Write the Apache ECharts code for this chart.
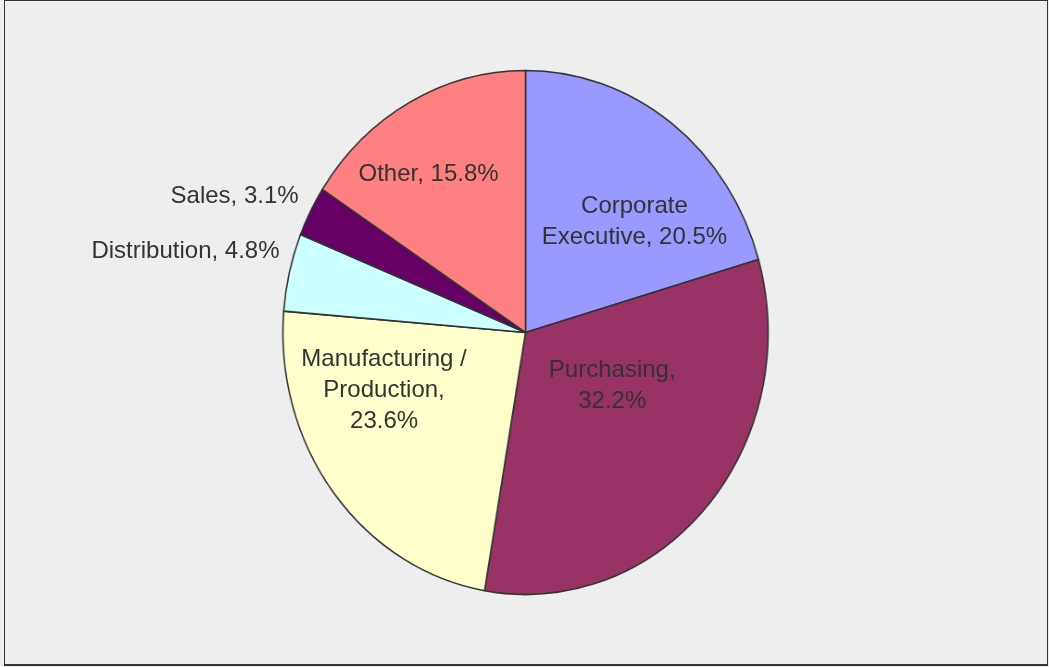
<!DOCTYPE html>
<html>
<head>
<meta charset="utf-8">
<script src="https://cdn.jsdelivr.net/npm/echarts@6/dist/echarts.min.js"></script>
<style>
  html, body { margin: 0; padding: 0; background: #eeeeee; }
  #frame { position: absolute; left: 4px; top: 0; width: 1042px; height: 663px; border: 1px solid #333; border-bottom: 2px solid #333; box-sizing: content-box; }
  .layer { position: absolute; left: 0; top: 0; width: 1049px; height: 667px; }
  /* the original pie is a slightly squeezed ellipse */
  #pie { transform: scaleX(0.926); transform-origin: 525.5px 0; }
</style>
</head>
<body>
<div id="frame"></div>
<div id="pie" class="layer"></div>
<div id="labels" class="layer"></div>
<script>
// slices, clockwise from 12 o'clock
var categories = ['Corporate\nExecutive', 'Purchasing', 'Manufacturing /\nProduction', 'Distribution', 'Sales', 'Other']
var separators = [', ', ',\n', ',\n', ', ', ', ', ', ']
var shares = [20.5, 32.2, 23.6, 4.8, 3.1, 15.8]
var colors = ['#9999ff', '#993366', '#ffffcc', '#ccffff', '#660066', '#ff8080']

// label nudges (px) from the default inside spot
var labelNudge = [[32, -7], [-9, -32], [-39, -21], [-214, -51], [-176, -76], [-35, -44]]

var pieChart = echarts.init(document.getElementById('pie'))
var labelChart = echarts.init(document.getElementById('labels'))

pieChart.setOption({
  animation: false,
  series: [
    {
      type: 'pie',
      center: [525.5, 332.5],
      radius: 262,
      startAngle: 90,
      clockwise: true,
      itemStyle: {
        borderColor: '#333',
        borderWidth: 1.6
      },
      label: { show: false },
      labelLine: { show: false },
      emphasis: { disabled: true },
      data: categories.map(function (name, i) {
        return { name: name, value: shares[i], itemStyle: { color: colors[i] } }
      })
    }
  ]
})

// same slices again, see-through, only to carry the labels unsqueezed
labelChart.setOption({
  animation: false,
  series: [
    {
      type: 'pie',
      silent: true,
      center: [525, 332],
      radius: 252,
      startAngle: 90,
      clockwise: true,
      avoidLabelOverlap: false,
      itemStyle: { color: 'rgba(0,0,0,0)', borderWidth: 0 },
      label: {
        show: true,
        position: 'inside',
        color: '#333',
        fontFamily: 'Liberation Sans, Arial, sans-serif',
        fontSize: 24,
        lineHeight: 31,
        formatter: function (p) {
          return p.name + separators[p.dataIndex] + p.value.toFixed(1) + '%'
        }
      },
      labelLine: { show: false },
      emphasis: { disabled: true },
      data: categories.map(function (name, i) {
        return { name: name, value: shares[i], label: { offset: labelNudge[i] } }
      })
    }
  ]
})
</script>
</body>
</html>
